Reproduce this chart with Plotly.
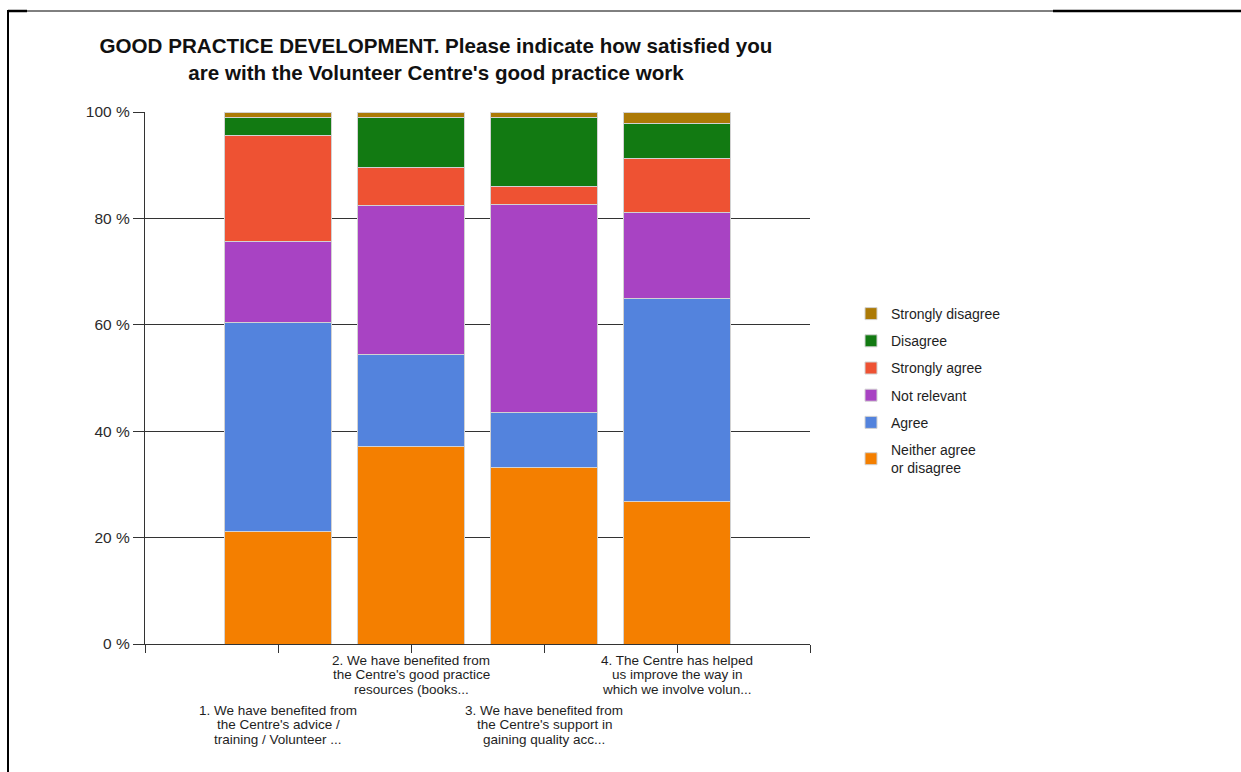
import plotly.graph_objects as go

# Survey statements (x categories); lines are split for the staggered labels
statements = [
    "1. We have benefited from\nthe Centre's advice /\ntraining / Volunteer ...",
    "2. We have benefited from\nthe Centre's good practice\nresources (books...",
    "3. We have benefited from\nthe Centre's support in\ngaining quality acc...",
    "4. The Centre has helped\nus improve the way in\nwhich we involve volun...",
]
positions = [0, 1, 2, 3]

# Share of responses (%) per answer, stacked bottom to top
neither = [21.2, 37.1, 33.2, 26.7]
agree = [39.3, 17.3, 10.3, 38.3]
not_relevant = [15.2, 28.0, 39.1, 16.1]
strongly_agree = [19.9, 7.1, 3.4, 10.2]
disagree = [3.4, 9.5, 13.0, 6.6]
strongly_disagree = [1.0, 1.0, 1.0, 2.1]

series_names = ["Neither agree<br>or disagree", "Agree", "Not relevant",
                "Strongly agree", "Disagree", "Strongly disagree"]
series_values = [neither, agree, not_relevant, strongly_agree, disagree, strongly_disagree]
series_colors = ["#F47F00", "#5383DD", "#A843C3", "#EE5233", "#127A12", "#AC7A06"]

y_ticks = [0, 20, 40, 60, 80, 100]
y_tick_text = [f"{v} %" for v in y_ticks]

W, H = 1241, 772
L, R, T, B = 145, 810, 112, 644  # plot area in pixels


def px_x(px):
    return (px - L) / (R - L)


def px_y(py):
    return (B - py) / (B - T)


FONT = "Liberation Sans, Arial, sans-serif"
fig = go.Figure()
n = len(series_names)
for i, (name, vals, col) in enumerate(zip(series_names, series_values, series_colors)):
    fig.add_trace(go.Bar(
        x=positions, y=vals, name=name, width=0.8,
        marker=dict(color=col, line=dict(color="#d2d2d2", width=1)),
        legendgroup=f"g{i}", legendrank=n - i,
    ))

annotations = []
for i, (pos, text) in enumerate(zip(positions, statements)):
    top = 660 if i % 2 == 1 else 710
    for j, line in enumerate(text.split("\n")):
        annotations.append(dict(
            x=pos, xref="x", y=px_y(top + j * 14.6), yref="paper",
            text=line, showarrow=False, xanchor="center", yanchor="middle",
            font=dict(family=FONT, size=13.5, color="#1e1e1e"),
        ))

shapes = [
    # page frame
    dict(type="line", xref="paper", yref="paper", x0=px_x(8), x1=px_x(8),
         y0=px_y(10), y1=px_y(772), line=dict(color="black", width=2)),
    dict(type="line", xref="paper", yref="paper", x0=px_x(8), x1=px_x(1241),
         y0=px_y(11), y1=px_y(11), line=dict(color="black", width=1)),
    dict(type="line", xref="paper", yref="paper", x0=px_x(8), x1=px_x(27),
         y0=px_y(11), y1=px_y(11), line=dict(color="black", width=2.5)),
    dict(type="line", xref="paper", yref="paper", x0=px_x(1053), x1=px_x(1241),
         y0=px_y(11), y1=px_y(11), line=dict(color="black", width=2.5)),
]

fig.update_layout(
    width=W, height=H,
    margin=dict(l=L, r=W - R, t=T, b=H - B, pad=0),
    paper_bgcolor="white", plot_bgcolor="white",
    barmode="stack",
    title=dict(
        text="GOOD PRACTICE DEVELOPMENT. Please indicate how satisfied you<br>"
             "are with the Volunteer Centre's good practice work",
        x=436 / W, xref="container", xanchor="center",
        y=1 - 53 / H, yref="container", yanchor="top",
        font=dict(family=FONT, size=20.6, color="#111111", weight="bold"),
    ),
    xaxis=dict(
        range=[-1, 4], tickvals=[-1, 0, 1, 2, 3, 4], showticklabels=False,
        ticks="outside", ticklen=8, tickcolor="#333333", tickwidth=1.3,
        showline=True, linecolor="#333333", linewidth=1.3,
        showgrid=False, zeroline=False, fixedrange=True,
    ),
    yaxis=dict(
        range=[0, 100], tickvals=y_ticks, ticktext=y_tick_text,
        ticks="outside", ticklen=11, tickcolor="#333333", tickwidth=1.3,
        showline=True, linecolor="#333333", linewidth=1.3,
        showgrid=True, gridcolor="#333333", gridwidth=1.3, zeroline=False,
        tickfont=dict(family=FONT, size=15.5, color="#2b2b2b"),
    ),
    legend=dict(
        x=px_x(851), xanchor="left", y=px_y(298), yanchor="top",
        traceorder="grouped", tracegroupgap=6,
        font=dict(family=FONT, size=14, color="#1e1e1e"),
        bgcolor="rgba(0,0,0,0)",
    ),
    annotations=annotations,
    shapes=shapes,
)

fig.write_html("out.html")
